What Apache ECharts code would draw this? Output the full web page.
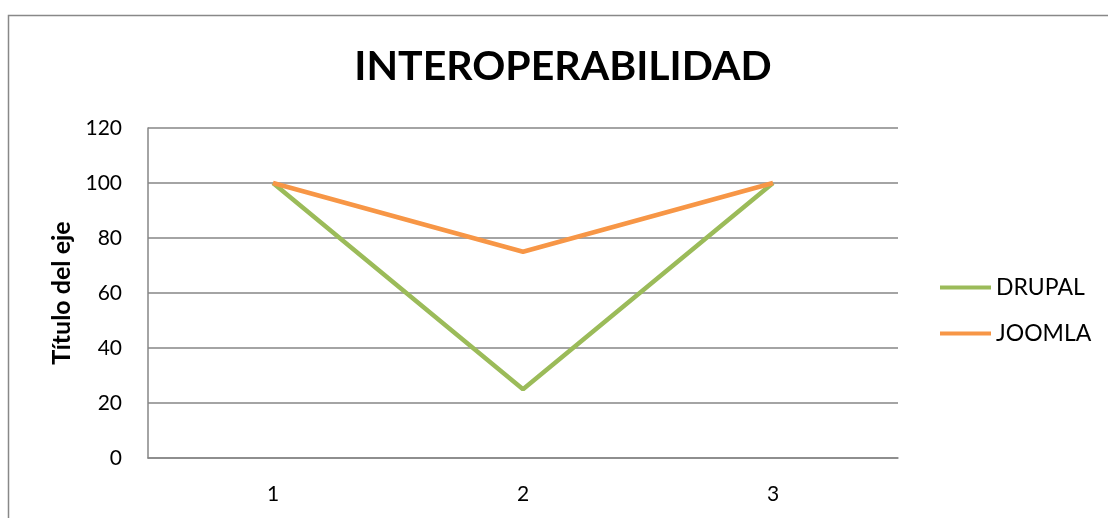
<!DOCTYPE html>
<html><head><meta charset="utf-8">
<script src="https://cdn.jsdelivr.net/npm/echarts@6/dist/echarts.min.js"></script>
<style>html,body{margin:0;padding:0;background:#fff}#c{width:1108px;height:518px}</style>
</head><body><div id="c"></div>
<script>
const categories = ['1', '2', '3'];
const drupal = [100, 25, 100];
const joomla = [100, 75, 100];
const yTicks = [0, 20, 40, 60, 80, 100, 120];

const chart = echarts.init(document.getElementById('c'));
const font = 'Lato, "Open Sans", sans-serif';
chart.setOption({
  animation: false,
  backgroundColor: '#fff',
  title: {
    text: 'INTEROPERABILIDAD', left: 558, top: 41, textAlign: 'center',
    textStyle: { fontFamily: font, fontWeight: 'bold', fontSize: 41, color: '#000' }
  },
  graphic: [{
    type: 'rect', shape: { x: 8.5, y: 15.5, width: 1300, height: 700 },
    style: { fill: 'none', stroke: '#888', lineWidth: 1.5 }, silent: true
  }],
  legend: {
    orient: 'vertical', left: 940, top: 276, itemGap: 23, padding: 0,
    itemWidth: 51, itemHeight: 4, icon: 'rect',
    textStyle: { fontFamily: font, fontSize: 23, color: '#000' },
    data: ['DRUPAL', 'JOOMLA']
  },
  grid: { left: 148, right: 210, top: 128, bottom: 60 },
  xAxis: {
    type: 'category', data: categories, boundaryGap: true,
    axisLine: { lineStyle: { color: '#868686', width: 1.5 } },
    axisTick: { show: false },
    axisLabel: { fontFamily: font, fontSize: 21, color: '#000', margin: 26 }
  },
  yAxis: {
    type: 'value', min: yTicks[0], max: yTicks[yTicks.length - 1], interval: 20,
    name: 'Título del eje', nameLocation: 'middle', nameGap: 74, nameRotate: 90,
    nameTextStyle: { fontFamily: font, fontWeight: 'bold', fontSize: 25, color: '#000' },
    axisLine: { show: true, lineStyle: { color: '#868686', width: 1.5 } },
    axisTick: { show: false },
    splitLine: { lineStyle: { color: '#868686', width: 1.5 } },
    axisLabel: { fontFamily: font, fontSize: 21, color: '#000', margin: 26 }
  },
  series: [
    { name: 'DRUPAL', type: 'line', data: drupal, showSymbol: false, symbol: 'none',
      itemStyle: { color: '#9BBB59' }, lineStyle: { color: '#9BBB59', width: 4.5 } },
    { name: 'JOOMLA', type: 'line', data: joomla, showSymbol: false, symbol: 'none',
      itemStyle: { color: '#F79646' }, lineStyle: { color: '#F79646', width: 4.5 } }
  ]
});
</script></body></html>
